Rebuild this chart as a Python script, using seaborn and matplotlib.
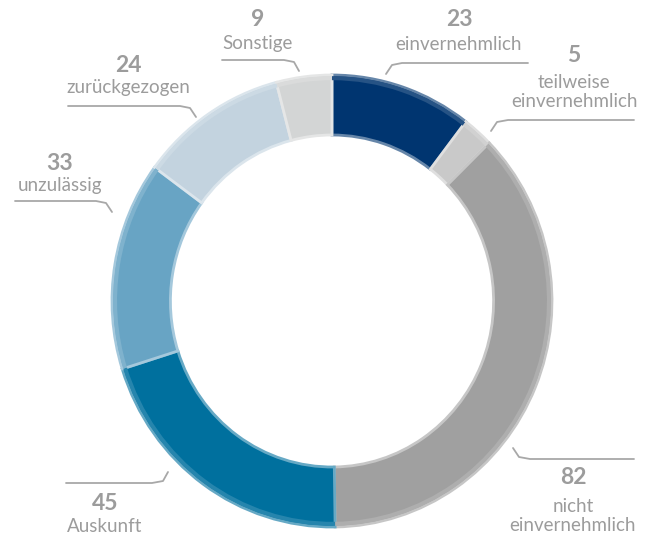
import matplotlib
matplotlib.use("Agg")
import matplotlib.pyplot as plt
import seaborn as sns
import numpy as np
from matplotlib.colors import to_rgb

# data, clockwise from the top
labels = ["einvernehmlich", "teilweise\neinvernehmlich", "nicht\neinvernehmlich",
          "Auskunft", "unzulässig", "zurückgezogen", "Sonstige"]
values = [23, 5, 82, 45, 33, 24, 9]
colors = ["#003570", "#c9c9c9", "#a0a0a0", "#00709e", "#68a4c4", "#c3d3df", "#d3d5d5"]

sns.set_theme(style="white")
plt.rcParams['font.family'] = ['Lato', 'DejaVu Sans']

W, H = 648, 537
fig = plt.figure(figsize=(W / 100, H / 100), dpi=100)

# donut axes placed in pixel coordinates (center 332,301; radii 220 x 226)
cx, cy, rx, ry = 332, 301, 220, 226
ax = fig.add_axes([(cx - rx) / W, (H - cy - ry) / H, 2 * rx / W, 2 * ry / H])


def tint(c, f):
    r, g, b = to_rgb(c)
    return (r + (1 - r) * f, g + (1 - g) * f, b + (1 - b) * f)


ring = 60 / 226
wedges, _ = ax.pie(values, colors=colors, startangle=90, counterclock=False,
                   radius=1, wedgeprops=dict(width=ring, linewidth=2.0,
                                             edgecolor="white"))
for w, c in zip(wedges, colors):
    w.set_edgecolor(tint(c, 0.4))

# thin lighter outer rim for the bevel look
rim, _ = ax.pie(values, colors=[tint(c, 0.15) for c in colors], startangle=90,
                counterclock=False, radius=0.995,
                wedgeprops=dict(width=0.018, linewidth=0))
ax.set_aspect("auto")
ax.set_xlim(-1, 1)
ax.set_ylim(-1, 1)
ax.axis("off")

# overlay axes in pixel space for labels and leader lines
ov = fig.add_axes([0, 0, 1, 1], facecolor="none")
ov.set_xlim(0, W)
ov.set_ylim(H, 0)
ov.axis("off")

gray = "#9c9c9c"
numfs, labfs = 16.5, 13.5

# (number x, number y, label y, leader line points)
annot = [
    (459, 20, 45, [(386, 74), (392, 65), (402, 63), (528, 63)]),
    (574, 55, 92, [(491, 131), (497, 122), (508, 120), (634, 120)]),
    (573, 478, 516, [(513, 448), (519, 457), (530, 459), (634, 459)]),
    (105, 503, 527, [(168, 472), (163, 481), (152, 483), (66, 483)]),
    (60, 163, 185, [(112, 212), (106, 203), (96, 201), (15, 201)]),
    (128, 65, 87, [(196, 117), (190, 108), (180, 106), (68, 106)]),
    (258, 20, 43, [(299, 71), (294, 62), (284, 60), (222, 60)]),
]

for v, lab, (nx, ny, ly, pts) in zip(values, labels, annot):
    ov.text(nx, ny, str(v), ha="center", va="center", fontsize=numfs,
            fontweight="bold", color=gray)
    ov.text(nx, ly, lab, ha="center", va="center", fontsize=labfs,
            color=gray, linespacing=1.1)
    xs, ys = zip(*pts)
    ov.plot(xs, ys, color="#a8a8a8", lw=1.3, solid_capstyle="round")

fig.savefig("out.png", dpi=100)
